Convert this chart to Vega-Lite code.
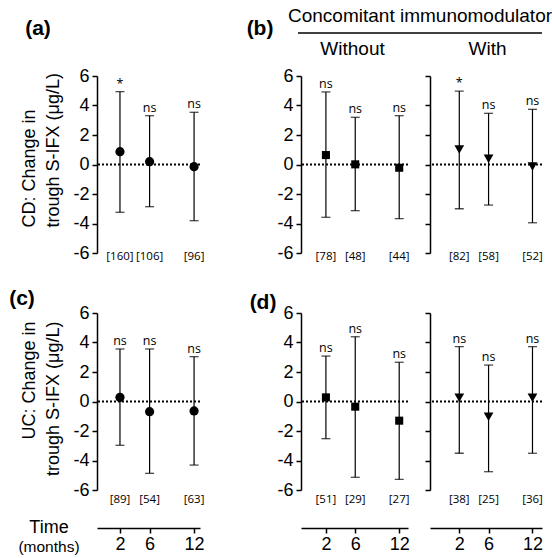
{
"$schema": "https://vega.github.io/schema/vega-lite/v6.json",
"padding": {"left": 9, "top": 6, "right": 5, "bottom": 5},
"background": "white",
"bounds": "flush",
"spacing": 204,
"config": {"view": {"stroke": null}, "axis": {"grid": false, "domainColor": "black", "domainWidth": 1.5, "tickColor": "black", "tickWidth": 1.5, "tickSize": 5, "labelFont": "Liberation Sans", "labelFontSize": 18, "labelColor": "black", "labelPadding": 3, "labelOverlap": false, "labelExpr": "'' + datum.value", "titleFont": "Liberation Sans", "titleFontSize": 18, "titleFontWeight": "normal", "titleColor": "black"}},
"datasets": {"main": [
{"panel": "a", "time": 2, "mean": 0.87, "lo": -3.24, "hi": 4.94, "sig": "*", "n": "[160]"},
{"panel": "a", "time": 6, "mean": 0.19, "lo": -2.86, "hi": 3.31, "sig": "ns", "n": "[106]"},
{"panel": "a", "time": 12, "mean": -0.15, "lo": -3.81, "hi": 3.54, "sig": "ns", "n": "[96]"},
{"panel": "bw", "time": 2, "mean": 0.64, "lo": -3.58, "hi": 4.92, "sig": "ns", "n": "[78]"},
{"panel": "bw", "time": 6, "mean": 0.01, "lo": -3.13, "hi": 3.2, "sig": "ns", "n": "[48]"},
{"panel": "bw", "time": 12, "mean": -0.22, "lo": -3.67, "hi": 3.31, "sig": "ns", "n": "[44]"},
{"panel": "bi", "time": 2, "mean": 1.02, "lo": -3.0, "hi": 4.98, "sig": "*", "n": "[82]"},
{"panel": "bi", "time": 6, "mean": 0.39, "lo": -2.75, "hi": 3.47, "sig": "ns", "n": "[58]"},
{"panel": "bi", "time": 12, "mean": -0.14, "lo": -3.95, "hi": 3.74, "sig": "ns", "n": "[52]"},
{"panel": "c", "time": 2, "mean": 0.28, "lo": -2.97, "hi": 3.56, "sig": "ns", "n": "[89]"},
{"panel": "c", "time": 6, "mean": -0.69, "lo": -4.87, "hi": 3.56, "sig": "ns", "n": "[54]"},
{"panel": "c", "time": 12, "mean": -0.64, "lo": -4.31, "hi": 3.04, "sig": "ns", "n": "[63]"},
{"panel": "dw", "time": 2, "mean": 0.28, "lo": -2.52, "hi": 3.08, "sig": "ns", "n": "[51]"},
{"panel": "dw", "time": 6, "mean": -0.35, "lo": -5.14, "hi": 4.39, "sig": "ns", "n": "[29]"},
{"panel": "dw", "time": 12, "mean": -1.3, "lo": -5.28, "hi": 2.66, "sig": "ns", "n": "[27]"},
{"panel": "di", "time": 2, "mean": 0.26, "lo": -3.51, "hi": 3.72, "sig": "ns", "n": "[38]"},
{"panel": "di", "time": 6, "mean": -1.03, "lo": -4.76, "hi": 2.47, "sig": "ns", "n": "[25]"},
{"panel": "di", "time": 12, "mean": 0.26, "lo": -3.51, "hi": 3.72, "sig": "ns", "n": "[36]"}
]},
"hconcat": [
{"vconcat": [
 {"width": 103, "height": 177, "layer": [
  {"data": {"values": [{"ref": 0}]}, "mark": {"type": "rule", "color": "black", "strokeWidth": 2, "strokeDash": [2, 2]}, "encoding": {"y": {"field": "ref", "type": "quantitative", "scale": {"domain": [-6, 6], "nice": false, "zero": false}}}},
  {"data": {"name": "main"}, "transform": [{"filter": "datum.panel === 'a'"}],
   "encoding": {"x": {"field": "time", "type": "quantitative", "scale": {"domain": [-1.1, 12.8], "nice": false, "zero": false}, "axis": null}},
   "layer": [
    {"mark": {"type": "rule", "color": "black", "strokeWidth": 1.2}, "encoding": {"y": {"field": "lo", "type": "quantitative", "scale": {"domain": [-6, 6], "nice": false, "zero": false}, "axis": {"values": [-6, -4, -2, 0, 2, 4, 6], "tickCount": 13, "labelOverlap": false, "title": ["CD: Change in", "trough S-IFX (μg/L)"], "titleAlign": "left", "titleBaseline": "bottom", "titleX": -59, "titleY": 151, "titleLineHeight": 24}}, "y2": {"field": "hi"}}},
    {"mark": {"type": "tick", "orient": "horizontal", "size": 9, "thickness": 1.3, "color": "black"}, "encoding": {"y": {"field": "lo", "type": "quantitative"}}},
    {"mark": {"type": "tick", "orient": "horizontal", "size": 9, "thickness": 1.3, "color": "black"}, "encoding": {"y": {"field": "hi", "type": "quantitative"}}},
    {"mark": {"type": "point", "shape": "circle", "filled": true, "color": "black", "opacity": 1, "size": 85}, "encoding": {"y": {"field": "mean", "type": "quantitative"}}},
    {"mark": {"type": "text", "font": "Open Sans", "fontSize": 12.5, "dy": -4, "baseline": "alphabetic", "color": "black"}, "encoding": {"y": {"field": "hi", "type": "quantitative"}, "text": {"field": "sig"}}},
    {"mark": {"type": "text", "font": "Open Sans", "fontSize": 11.5, "baseline": "middle", "color": "black"}, "encoding": {"y": {"datum": -6.25, "type": "quantitative"}, "text": {"field": "n"}}}
   ]},
  {"data": {"values": [{"t": "(a)"}]}, "mark": {"type": "text", "font": "Liberation Sans", "fontSize": 21, "fontWeight": "bold", "align": "center", "baseline": "middle", "color": "black"}, "encoding": {"x": {"datum": -9.06, "type": "quantitative", "scale": {"domain": [-1.1, 12.8], "nice": false, "zero": false}}, "y": {"datum": 9.19, "type": "quantitative", "scale": {"domain": [-6, 6], "nice": false, "zero": false}}, "text": {"field": "t"}}}
 ]},
 {"width": 103, "height": 177, "layer": [
  {"data": {"values": [{"ref": 0}]}, "mark": {"type": "rule", "color": "black", "strokeWidth": 2, "strokeDash": [2, 2]}, "encoding": {"y": {"field": "ref", "type": "quantitative", "scale": {"domain": [-6, 6], "nice": false, "zero": false}}}},
  {"data": {"name": "main"}, "transform": [{"filter": "datum.panel === 'c'"}],
   "encoding": {"x": {"field": "time", "type": "quantitative", "scale": {"domain": [-1.1, 12.8], "nice": false, "zero": false}, "axis": {"values": [2, 6, 12], "tickCount": 13, "labelOverlap": false, "offset": 38, "title": null, "labelPadding": 2}}},
   "layer": [
    {"mark": {"type": "rule", "color": "black", "strokeWidth": 1.2}, "encoding": {"y": {"field": "lo", "type": "quantitative", "scale": {"domain": [-6, 6], "nice": false, "zero": false}, "axis": {"values": [-6, -4, -2, 0, 2, 4, 6], "tickCount": 13, "labelOverlap": false, "title": ["UC: Change in", "trough S-IFX (μg/L)"], "titleAlign": "right", "titleBaseline": "bottom", "titleX": -59, "titleY": 8, "titleLineHeight": 24}}, "y2": {"field": "hi"}}},
    {"mark": {"type": "tick", "orient": "horizontal", "size": 9, "thickness": 1.3, "color": "black"}, "encoding": {"y": {"field": "lo", "type": "quantitative"}}},
    {"mark": {"type": "tick", "orient": "horizontal", "size": 9, "thickness": 1.3, "color": "black"}, "encoding": {"y": {"field": "hi", "type": "quantitative"}}},
    {"mark": {"type": "point", "shape": "circle", "filled": true, "color": "black", "opacity": 1, "size": 85}, "encoding": {"y": {"field": "mean", "type": "quantitative"}}},
    {"mark": {"type": "text", "font": "Open Sans", "fontSize": 12.5, "dy": -4, "baseline": "alphabetic", "color": "black"}, "encoding": {"y": {"field": "hi", "type": "quantitative"}, "text": {"field": "sig"}}},
    {"mark": {"type": "text", "font": "Open Sans", "fontSize": 11.5, "baseline": "middle", "color": "black"}, "encoding": {"y": {"datum": -6.68, "type": "quantitative"}, "text": {"field": "n"}}}
   ]},
  {"data": {"values": [{"t": "(c)"}]}, "mark": {"type": "text", "font": "Liberation Sans", "fontSize": 21, "fontWeight": "bold", "align": "center", "baseline": "middle", "color": "black"}, "encoding": {"x": {"datum": -11.22, "type": "quantitative", "scale": {"domain": [-1.1, 12.8], "nice": false, "zero": false}}, "y": {"datum": 6.95, "type": "quantitative", "scale": {"domain": [-6, 6], "nice": false, "zero": false}}, "text": {"field": "t"}}},
  {"data": {"values": [{"t": "Time"}]}, "mark": {"type": "text", "font": "Liberation Sans", "fontSize": 18, "align": "center", "baseline": "middle", "color": "black"}, "encoding": {"x": {"datum": -7.58, "type": "quantitative", "scale": {"domain": [-1.1, 12.8], "nice": false, "zero": false}}, "y": {"datum": -8.61, "type": "quantitative", "scale": {"domain": [-6, 6], "nice": false, "zero": false}}, "text": {"field": "t"}}},
  {"data": {"values": [{"t": "(months)"}]}, "mark": {"type": "text", "font": "Liberation Sans", "fontSize": 15.5, "align": "center", "baseline": "middle", "color": "black"}, "encoding": {"x": {"datum": -7.58, "type": "quantitative", "scale": {"domain": [-1.1, 12.8], "nice": false, "zero": false}}, "y": {"datum": -9.86, "type": "quantitative", "scale": {"domain": [-6, 6], "nice": false, "zero": false}}, "text": {"field": "t"}}}
 ]}
], "spacing": 60, "bounds": "flush"},
{"hconcat": [
 {"vconcat": [
  {"width": 107, "height": 177, "layer": [
   {"data": {"values": [{"ref": 0}]}, "mark": {"type": "rule", "color": "black", "strokeWidth": 2, "strokeDash": [2, 2]}, "encoding": {"y": {"field": "ref", "type": "quantitative", "scale": {"domain": [-6, 6], "nice": false, "zero": false}}}},
   {"data": {"name": "main"}, "transform": [{"filter": "datum.panel === 'bw'"}],
    "encoding": {"x": {"field": "time", "type": "quantitative", "scale": {"domain": [-1.4, 13.2], "nice": false, "zero": false}, "axis": null}},
    "layer": [
     {"mark": {"type": "rule", "color": "black", "strokeWidth": 1.2}, "encoding": {"y": {"field": "lo", "type": "quantitative", "scale": {"domain": [-6, 6], "nice": false, "zero": false}, "axis": {"values": [-6, -4, -2, 0, 2, 4, 6], "tickCount": 13, "labelOverlap": false, "title": null}}, "y2": {"field": "hi"}}},
     {"mark": {"type": "tick", "orient": "horizontal", "size": 9, "thickness": 1.3, "color": "black"}, "encoding": {"y": {"field": "lo", "type": "quantitative"}}},
     {"mark": {"type": "tick", "orient": "horizontal", "size": 9, "thickness": 1.3, "color": "black"}, "encoding": {"y": {"field": "hi", "type": "quantitative"}}},
     {"mark": {"type": "point", "shape": "square", "filled": true, "color": "black", "opacity": 1, "size": 65}, "encoding": {"y": {"field": "mean", "type": "quantitative"}}},
     {"mark": {"type": "text", "font": "Open Sans", "fontSize": 12.5, "dy": -4, "baseline": "alphabetic", "color": "black"}, "encoding": {"y": {"field": "hi", "type": "quantitative"}, "text": {"field": "sig"}}},
     {"mark": {"type": "text", "font": "Open Sans", "fontSize": 11.5, "baseline": "middle", "color": "black"}, "encoding": {"y": {"datum": -6.25, "type": "quantitative"}, "text": {"field": "n"}}}
    ]},
   {"data": {"values": [{"t": "(b)"}]}, "mark": {"type": "text", "font": "Liberation Sans", "fontSize": 21, "fontWeight": "bold", "align": "center", "baseline": "middle", "color": "black"}, "encoding": {"x": {"datum": -6.99, "type": "quantitative", "scale": {"domain": [-1.4, 13.2], "nice": false, "zero": false}}, "y": {"datum": 9.19, "type": "quantitative", "scale": {"domain": [-6, 6], "nice": false, "zero": false}}, "text": {"field": "t"}}},
   {"data": {"values": [{"t": "Concomitant immunomodulator"}]}, "mark": {"type": "text", "font": "Liberation Sans", "fontSize": 19, "align": "center", "baseline": "middle", "color": "black"}, "encoding": {"x": {"datum": 14.84, "type": "quantitative", "scale": {"domain": [-1.4, 13.2], "nice": false, "zero": false}}, "y": {"datum": 10.07, "type": "quantitative", "scale": {"domain": [-6, 6], "nice": false, "zero": false}}, "text": {"field": "t"}}},
   {"data": {"values": [{"t": "underline"}]}, "mark": {"type": "rule", "color": "black", "strokeWidth": 1.5}, "encoding": {"x": {"datum": -1.81, "type": "quantitative", "scale": {"domain": [-1.4, 13.2], "nice": false, "zero": false}}, "x2": {"datum": 31.48}, "y": {"datum": 8.92, "type": "quantitative", "scale": {"domain": [-6, 6], "nice": false, "zero": false}}}},
   {"data": {"values": [{"t": "Without"}]}, "mark": {"type": "text", "font": "Liberation Sans", "fontSize": 19, "align": "center", "baseline": "middle", "color": "black"}, "encoding": {"x": {"datum": 5.63, "type": "quantitative", "scale": {"domain": [-1.4, 13.2], "nice": false, "zero": false}}, "y": {"datum": 7.86, "type": "quantitative", "scale": {"domain": [-6, 6], "nice": false, "zero": false}}, "text": {"field": "t"}}}
  ]},
  {"width": 107, "height": 177, "layer": [
   {"data": {"values": [{"ref": 0}]}, "mark": {"type": "rule", "color": "black", "strokeWidth": 2, "strokeDash": [2, 2]}, "encoding": {"y": {"field": "ref", "type": "quantitative", "scale": {"domain": [-6, 6], "nice": false, "zero": false}}}},
   {"data": {"name": "main"}, "transform": [{"filter": "datum.panel === 'dw'"}],
    "encoding": {"x": {"field": "time", "type": "quantitative", "scale": {"domain": [-1.4, 13.2], "nice": false, "zero": false}, "axis": {"values": [2, 6, 12], "tickCount": 13, "labelOverlap": false, "offset": 38, "title": null, "labelPadding": 2}}},
    "layer": [
     {"mark": {"type": "rule", "color": "black", "strokeWidth": 1.2}, "encoding": {"y": {"field": "lo", "type": "quantitative", "scale": {"domain": [-6, 6], "nice": false, "zero": false}, "axis": {"values": [-6, -4, -2, 0, 2, 4, 6], "tickCount": 13, "labelOverlap": false, "title": null}}, "y2": {"field": "hi"}}},
     {"mark": {"type": "tick", "orient": "horizontal", "size": 9, "thickness": 1.3, "color": "black"}, "encoding": {"y": {"field": "lo", "type": "quantitative"}}},
     {"mark": {"type": "tick", "orient": "horizontal", "size": 9, "thickness": 1.3, "color": "black"}, "encoding": {"y": {"field": "hi", "type": "quantitative"}}},
     {"mark": {"type": "point", "shape": "square", "filled": true, "color": "black", "opacity": 1, "size": 65}, "encoding": {"y": {"field": "mean", "type": "quantitative"}}},
     {"mark": {"type": "text", "font": "Open Sans", "fontSize": 12.5, "dy": -4, "baseline": "alphabetic", "color": "black"}, "encoding": {"y": {"field": "hi", "type": "quantitative"}, "text": {"field": "sig"}}},
     {"mark": {"type": "text", "font": "Open Sans", "fontSize": 11.5, "baseline": "middle", "color": "black"}, "encoding": {"y": {"datum": -6.68, "type": "quantitative"}, "text": {"field": "n"}}}
    ]},
   {"data": {"values": [{"t": "(d)"}]}, "mark": {"type": "text", "font": "Liberation Sans", "fontSize": 21, "fontWeight": "bold", "align": "center", "baseline": "middle", "color": "black"}, "encoding": {"x": {"datum": -6.58, "type": "quantitative", "scale": {"domain": [-1.4, 13.2], "nice": false, "zero": false}}, "y": {"datum": 6.68, "type": "quantitative", "scale": {"domain": [-6, 6], "nice": false, "zero": false}}, "text": {"field": "t"}}}
  ]}
 ], "spacing": 60, "bounds": "flush"},
 {"vconcat": [
  {"width": 112, "height": 177, "layer": [
   {"data": {"values": [{"ref": 0}]}, "mark": {"type": "rule", "color": "black", "strokeWidth": 2, "strokeDash": [2, 2]}, "encoding": {"y": {"field": "ref", "type": "quantitative", "scale": {"domain": [-6, 6], "nice": false, "zero": false}}}},
   {"data": {"name": "main"}, "transform": [{"filter": "datum.panel === 'bi'"}],
    "encoding": {"x": {"field": "time", "type": "quantitative", "scale": {"domain": [-2, 13.3], "nice": false, "zero": false}, "axis": null}},
    "layer": [
     {"mark": {"type": "rule", "color": "black", "strokeWidth": 1.2}, "encoding": {"y": {"field": "lo", "type": "quantitative", "scale": {"domain": [-6, 6], "nice": false, "zero": false}, "axis": {"values": [-6, -4, -2, 0, 2, 4, 6], "tickCount": 13, "labelOverlap": false, "title": null, "labels": false}}, "y2": {"field": "hi"}}},
     {"mark": {"type": "tick", "orient": "horizontal", "size": 9, "thickness": 1.3, "color": "black"}, "encoding": {"y": {"field": "lo", "type": "quantitative"}}},
     {"mark": {"type": "tick", "orient": "horizontal", "size": 9, "thickness": 1.3, "color": "black"}, "encoding": {"y": {"field": "hi", "type": "quantitative"}}},
     {"mark": {"type": "point", "shape": "triangle-down", "filled": true, "color": "black", "opacity": 1, "size": 95}, "encoding": {"y": {"field": "mean", "type": "quantitative"}}},
     {"mark": {"type": "text", "font": "Open Sans", "fontSize": 12.5, "dy": -4, "baseline": "alphabetic", "color": "black"}, "encoding": {"y": {"field": "hi", "type": "quantitative"}, "text": {"field": "sig"}}},
     {"mark": {"type": "text", "font": "Open Sans", "fontSize": 11.5, "baseline": "middle", "color": "black"}, "encoding": {"y": {"datum": -6.25, "type": "quantitative"}, "text": {"field": "n"}}}
    ]},
   {"data": {"values": [{"t": "With"}]}, "mark": {"type": "text", "font": "Liberation Sans", "fontSize": 19, "align": "center", "baseline": "middle", "color": "black"}, "encoding": {"x": {"datum": 5.86, "type": "quantitative", "scale": {"domain": [-2, 13.3], "nice": false, "zero": false}}, "y": {"datum": 7.86, "type": "quantitative", "scale": {"domain": [-6, 6], "nice": false, "zero": false}}, "text": {"field": "t"}}}
  ]},
  {"width": 112, "height": 177, "layer": [
   {"data": {"values": [{"ref": 0}]}, "mark": {"type": "rule", "color": "black", "strokeWidth": 2, "strokeDash": [2, 2]}, "encoding": {"y": {"field": "ref", "type": "quantitative", "scale": {"domain": [-6, 6], "nice": false, "zero": false}}}},
   {"data": {"name": "main"}, "transform": [{"filter": "datum.panel === 'di'"}],
    "encoding": {"x": {"field": "time", "type": "quantitative", "scale": {"domain": [-2, 13.3], "nice": false, "zero": false}, "axis": {"values": [2, 6, 12], "tickCount": 13, "labelOverlap": false, "offset": 38, "title": null, "labelPadding": 2}}},
    "layer": [
     {"mark": {"type": "rule", "color": "black", "strokeWidth": 1.2}, "encoding": {"y": {"field": "lo", "type": "quantitative", "scale": {"domain": [-6, 6], "nice": false, "zero": false}, "axis": {"values": [-6, -4, -2, 0, 2, 4, 6], "tickCount": 13, "labelOverlap": false, "title": null, "labels": false}}, "y2": {"field": "hi"}}},
     {"mark": {"type": "tick", "orient": "horizontal", "size": 9, "thickness": 1.3, "color": "black"}, "encoding": {"y": {"field": "lo", "type": "quantitative"}}},
     {"mark": {"type": "tick", "orient": "horizontal", "size": 9, "thickness": 1.3, "color": "black"}, "encoding": {"y": {"field": "hi", "type": "quantitative"}}},
     {"mark": {"type": "point", "shape": "triangle-down", "filled": true, "color": "black", "opacity": 1, "size": 95}, "encoding": {"y": {"field": "mean", "type": "quantitative"}}},
     {"mark": {"type": "text", "font": "Open Sans", "fontSize": 12.5, "dy": -4, "baseline": "alphabetic", "color": "black"}, "encoding": {"y": {"field": "hi", "type": "quantitative"}, "text": {"field": "sig"}}},
     {"mark": {"type": "text", "font": "Open Sans", "fontSize": 11.5, "baseline": "middle", "color": "black"}, "encoding": {"y": {"datum": -6.68, "type": "quantitative"}, "text": {"field": "n"}}}
    ]}
  ]}
 ], "spacing": 60, "bounds": "flush"}
], "spacing": 129, "bounds": "flush"}
]
}
